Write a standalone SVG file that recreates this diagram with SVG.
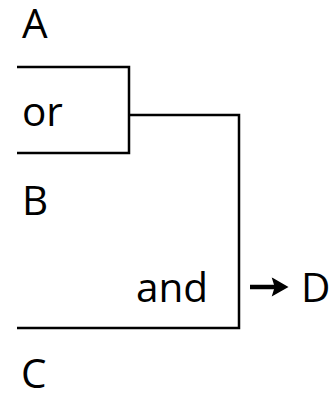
<svg xmlns="http://www.w3.org/2000/svg" width="336" height="394" viewBox="0 0 336 394">
<style>
text{font-family:"Open Sans","Noto Sans",sans-serif;font-size:40.5px;fill:#000}
.br{fill:none;stroke:#000;stroke-width:2.5;stroke-linejoin:miter}
</style>
<rect width="336" height="394" fill="#fff"/>
<g id="A"><text x="22" y="38">A</text></g>
<g id="B"><text x="22" y="215">B</text></g>
<g id="C"><text x="21" y="388">C</text></g>
<g id="D"><text x="301" y="302">D</text></g>
<g id="or">
<path class="br" d="M17,67 H129 V153 H17"/>
<text x="22" y="126">or</text>
</g>
<g id="and">
<path class="br" d="M129,115 H239 V328 H17"/>
<text x="136" y="302">and</text>
</g>
<g id="connectors">
<path d="M250,287 H278" fill="none" stroke="#000" stroke-width="4.5"/>
<path d="M273,279 L287,287 L273,295 L275.5,287 Z" fill="#000" stroke="#000" stroke-width="1.5" stroke-linejoin="miter"/>
</g>
</svg>
